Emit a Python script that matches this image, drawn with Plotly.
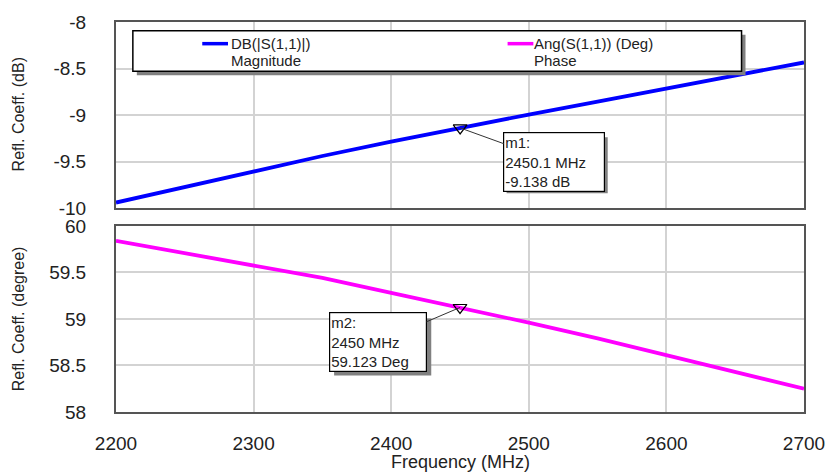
import plotly.graph_objects as go

freq = [2200, 2250, 2300, 2350, 2400, 2450, 2500, 2550, 2600, 2650, 2700]
mag_db = [-9.94, -9.77, -9.60, -9.44, -9.285, -9.138, -8.995, -8.855, -8.715, -8.575, -8.435]
phase_deg = [59.84, 59.71, 59.58, 59.44, 59.28, 59.123, 58.96, 58.79, 58.61, 58.43, 58.25]

m1_freq, m1_val = 2450.1, -9.138
m2_freq, m2_val = 2450, 59.123

x_ticks = [2200, 2300, 2400, 2500, 2600, 2700]
y1_ticks = [-10, -9.5, -9, -8.5, -8]
y1_labels = ["-10", "-9.5", "-9", "-8.5", "-8"]
y2_ticks = [58, 58.5, 59, 59.5, 60]
y2_labels = ["58", "58.5", "59", "59.5", "60"]

legend_names = ["DB(|S(1,1)|)", "Ang(S(1,1)) (Deg)"]
legend_desc = ["Magnitude", "Phase"]

W, H = 837, 475
L, R, T, B = 116, 27, 16, 63
PW, PH = W - L - R, H - T - B


def px(x):
    return (x - L) / PW


def py(y):
    return (H - B - y) / PH


FONT = "Liberation Sans, Arial, sans-serif"
TXT = "#222222"
BLUE = "#0000FF"
MAG = "#FF00FF"

fig = go.Figure()
fig.add_trace(go.Scatter(x=freq, y=mag_db, mode="lines", line=dict(color=BLUE, width=3.8),
                         xaxis="x2", yaxis="y2", showlegend=False))
fig.add_trace(go.Scatter(x=freq, y=phase_deg, mode="lines", line=dict(color=MAG, width=3.8),
                         xaxis="x", yaxis="y", showlegend=False))
fig.add_trace(go.Scatter(x=[m1_freq], y=[m1_val], mode="markers", xaxis="x2", yaxis="y2",
                         marker=dict(symbol="triangle-down-open", size=12, color="black",
                                     line=dict(width=1.2)), showlegend=False))
fig.add_trace(go.Scatter(x=[m2_freq], y=[m2_val], mode="markers", xaxis="x", yaxis="y",
                         marker=dict(symbol="triangle-down-open", size=12, color="black",
                                     line=dict(width=1.2)), showlegend=False))

top_dom = [(H - B - 205) / PH, 1]
bot_dom = [0, (H - B - 223) / PH]

axis_common = dict(showline=True, linecolor="#555555", linewidth=2, mirror=True,
                   showgrid=True, gridcolor="#d3d3d3", gridwidth=1.5, zeroline=False,
                   tickfont=dict(family=FONT, size=19, color=TXT), ticks="")

fig.update_layout(
    width=W, height=H, margin=dict(l=L, r=R, t=T, b=B),
    paper_bgcolor="white", plot_bgcolor="white",
    xaxis=dict(range=[2200, 2700], tickvals=x_ticks, anchor="y", domain=[0, 1],
               ticklabelstandoff=13, **axis_common),
    yaxis=dict(range=[58, 60], tickvals=y2_ticks, ticktext=y2_labels, domain=bot_dom, anchor="x",
               ticklabelstandoff=24, **axis_common),
    xaxis2=dict(range=[2200, 2700], tickvals=x_ticks, anchor="y2", domain=[0, 1],
                showticklabels=False, matches="x", **axis_common),
    yaxis2=dict(range=[-10, -8], tickvals=y1_ticks, ticktext=y1_labels, domain=top_dom, anchor="x2",
                ticklabelstandoff=24, **axis_common),
)

shapes = []
anns = []

# legend box with shadow
lx0, ly0, lx1, ly1 = 133, 25, 747, 66
shapes.append(dict(type="rect", xref="paper", yref="paper", x0=px(lx0 + 4), x1=px(lx1 + 4),
                   y0=py(ly1 + 4), y1=py(ly0 + 4), fillcolor="#808080", line=dict(width=0), layer="above"))
shapes.append(dict(type="rect", xref="paper", yref="paper", x0=px(lx0), x1=px(lx1),
                   y0=py(ly1), y1=py(ly0), fillcolor="white", line=dict(color="black", width=1.5), layer="above"))
for (lx_line, lx_text, col, name, desc) in [(203, 230, BLUE, legend_names[0], legend_desc[0]),
                                             (511, 536, MAG, legend_names[1], legend_desc[1])]:
    shapes.append(dict(type="line", xref="paper", yref="paper", x0=px(lx_line), x1=px(lx_line + 26),
                       y0=py(38), y1=py(38), line=dict(color=col, width=3.5), layer="above"))
    anns.append(dict(xref="paper", yref="paper", x=px(lx_text), y=py(38), xanchor="left", yanchor="middle",
                     text=name, showarrow=False, font=dict(family=FONT, size=15, color=TXT)))
    anns.append(dict(xref="paper", yref="paper", x=px(lx_text), y=py(55), xanchor="left", yanchor="middle",
                     text=desc, showarrow=False, font=dict(family=FONT, size=15, color=TXT)))

# marker annotation shadows
for (bx0, by0, bx1, by1) in [(506, 129, 608, 186), (332, 313, 430, 371)]:
    shapes.append(dict(type="rect", xref="paper", yref="paper", x0=px(bx0 + 4), x1=px(bx1 + 4),
                       y0=py(by1 + 4), y1=py(by0 + 4), fillcolor="#808080", line=dict(width=0), layer="above"))

anns.append(dict(x=m1_freq, y=m1_val, xref="x2", yref="y2", ax=94, ay=34,
                 text="m1:<br>2450.1 MHz<br>-9.138 dB", showarrow=True, arrowhead=0, arrowwidth=1,
                 arrowcolor="#333", align="left", bgcolor="white", bordercolor="black", borderwidth=1.2,
                 borderpad=1, width=98, font=dict(family=FONT, size=15, color=TXT)))
anns.append(dict(x=m2_freq, y=m2_val, xref="x", yref="y", ax=-82, ay=35,
                 text="m2:<br>2450 MHz<br>59.123 Deg", showarrow=True, arrowhead=0, arrowwidth=1,
                 arrowcolor="#333", align="left", bgcolor="white", bordercolor="black", borderwidth=1.2,
                 borderpad=1, width=94, font=dict(family=FONT, size=15, color=TXT)))

# axis titles
anns.append(dict(xref="paper", yref="paper", x=px(18), y=py(110), text="Refl. Coeff. (dB)", textangle=-90,
                 showarrow=False, xanchor="center", yanchor="middle", font=dict(family=FONT, size=16, color=TXT)))
anns.append(dict(xref="paper", yref="paper", x=px(18), y=py(317), text="Refl. Coeff. (degree)", textangle=-90,
                 showarrow=False, xanchor="center", yanchor="middle", font=dict(family=FONT, size=16, color=TXT)))
anns.append(dict(xref="paper", yref="paper", x=px(463), y=py(463), text="Frequency (MHz)",
                 showarrow=False, xanchor="center", yanchor="middle", font=dict(family=FONT, size=18, color=TXT)))

fig.update_layout(shapes=shapes, annotations=anns)
fig.write_html("out.html")
